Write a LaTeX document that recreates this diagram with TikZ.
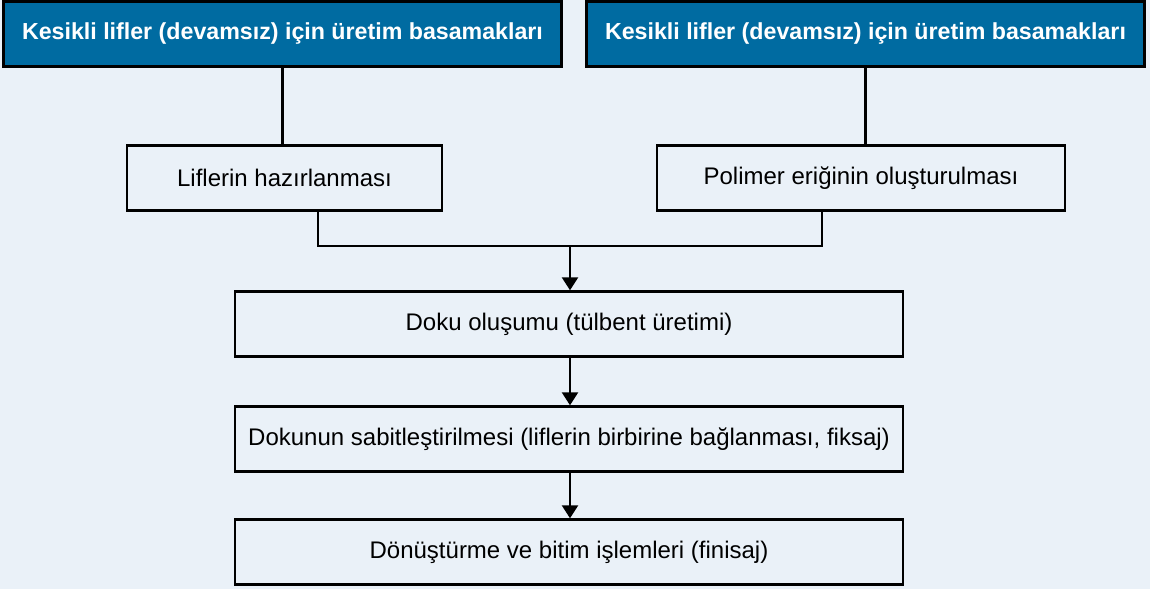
\documentclass[tikz,border=0pt]{standalone}
\usepackage{fontspec}
\setmainfont{Liberation Sans}
\usetikzlibrary{positioning,arrows.meta,calc}
\definecolor{paneBg}{RGB}{234,241,248}
\definecolor{headBlue}{RGB}{0,107,161}
\tikzset{
  >={Triangle[length=6.5pt,width=8pt]},
  box/.style={rectangle,draw=black,line width=1.2pt,inner sep=0pt,
    font=\fontsize{12}{14}\selectfont,minimum height=32.5pt},
  headbox/.style={box,fill=headBlue,text=white,minimum width=279pt,
    font=\fontsize{11.6}{14}\selectfont\bfseries},
  stepbox/.style={box,fill=paneBg,text=black},
  link/.style={line width=1.2pt},
}

\begin{document}
\begin{tikzpicture}[x=0.5pt,y=-0.5pt]

% background pane
\fill[paneBg] (0,0) rectangle (1150,589);

% ===== Header boxes =====
\node[headbox] (headL) at (282.5,34) {Kesikli lifler (devamsız) için üretim basamakları};
\node[headbox] (headR) at (865.5,34) {Kesikli lifler (devamsız) için üretim basamakları};

% ===== First steps =====
\node[stepbox, minimum width=157.5pt] (prepFib) at (284.5,178) {Liflerin hazırlanması};
\node[stepbox, minimum width=204pt] (meltPoly) at (861,178) {Polimer eriğinin oluşturulması};

% ===== Common steps =====
\node[stepbox, minimum width=334pt] (webForm) at (569,324) {Doku oluşumu (tülbent üretimi)};
\node[stepbox, minimum width=334pt] (webBond) at (569,439) {Dokunun sabitleştirilmesi (liflerin birbirine bağlanması, fiksaj)};
\node[stepbox, minimum width=334pt] (finish) at (569,552) {Dönüştürme ve bitim işlemleri (finisaj)};

% ===== Connections =====
\coordinate (join) at (570,246);
\draw[link] (headL.south) -- (headL.south |- prepFib.north);
\draw[link] (headR.south) -- (headR.south |- meltPoly.north);
\draw[link] ($(prepFib.south)+(33.5,0)$) |- (join) -| ($(meltPoly.south)+(-39,0)$);
\draw[link,->] (join) -- (join |- webForm.north);
\draw[link,->] (join |- webForm.south) -- (join |- webBond.north);
\draw[link,->] (join |- webBond.south) -- (join |- finish.north);

\end{tikzpicture}
\end{document}
